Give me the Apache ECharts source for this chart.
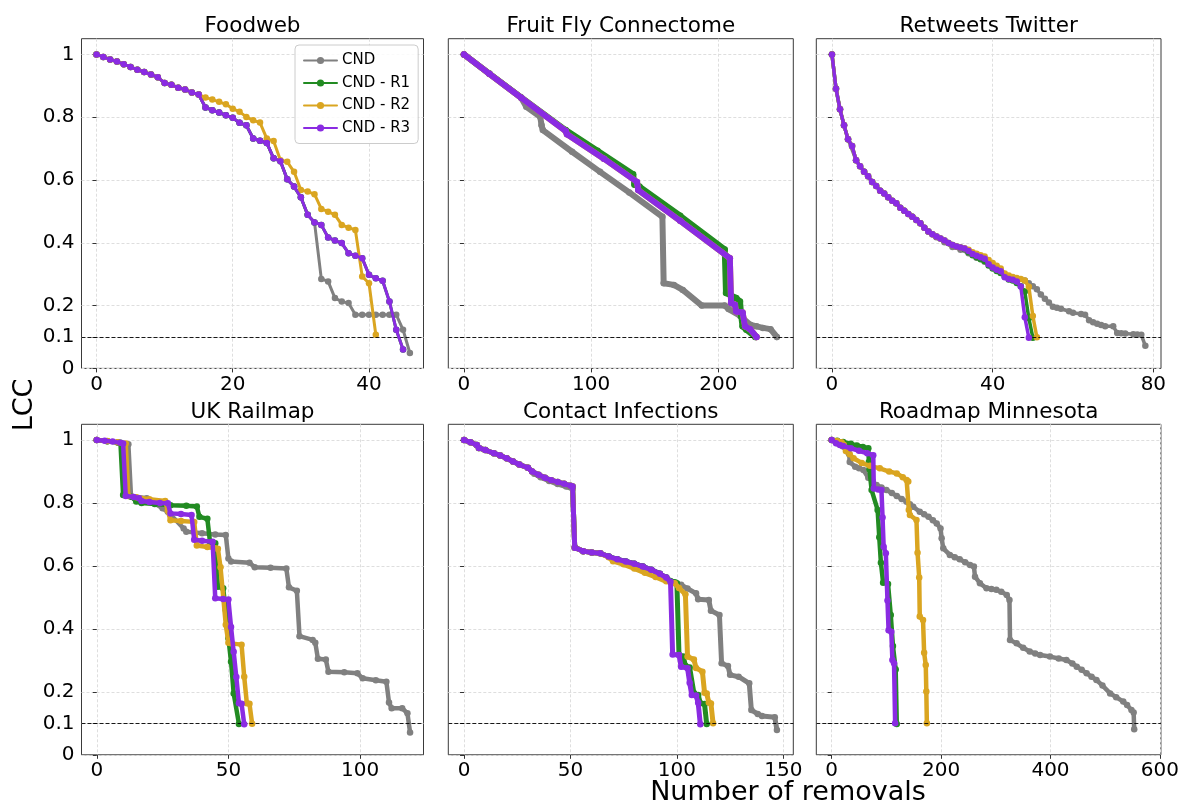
<!DOCTYPE html>
<html>
<head>
<meta charset="utf-8">
<script src="https://cdn.jsdelivr.net/npm/echarts@6/dist/echarts.min.js"></script>
<style>
  html, body { margin: 0; padding: 0; background: #fff; }
  #chart { width: 1182px; height: 807px; }
</style>
</head>
<body>
<div id="chart"></div>
<script>
// ---------- Series labels and tick values ----------
const seriesNames = ['CND', 'CND - R1', 'CND - R2', 'CND - R3'];
const panelTitles = ['Foodweb', 'Fruit Fly Connectome', 'Retweets Twitter',
                     'UK Railmap', 'Contact Infections', 'Roadmap Minnesota'];
const yTicks = [0, 0.1, 0.2, 0.4, 0.6, 0.8, 1];
const foodwebXTicks = [0, 20, 40];
const fruitflyXTicks = [0, 100, 200];
const retweetsXTicks = [0, 40, 80];
const railmapXTicks = [0, 50, 100];
const contactXTicks = [0, 50, 100, 150];
const roadmapXTicks = [0, 200, 400, 600];
const lccThreshold = 0.1;

// ---------- Foodweb: LCC after each removal (index = removals) ----------
const foodwebCND = [1.000,0.992,0.984,0.977,0.969,0.960,0.951,0.944,0.936,0.927,0.909,0.903,0.894,0.888,0.879,0.872,0.831,0.822,0.815,0.806,0.798,0.782,0.774,0.732,0.725,0.718,0.669,0.660,0.602,0.579,0.545,0.489,0.465,
  0.285,0.277,0.224,0.213,0.208,0.171,0.171,0.171,0.171,0.171,0.171,0.171,0.123,0.049];
const foodwebR1 = [1.000,0.992,0.984,0.977,0.969,0.960,0.951,0.944,0.936,0.927,0.909,0.903,0.894,0.888,0.879,0.872,0.831,0.822,0.815,0.806,0.798,0.782,0.774,0.732,0.725,0.718,0.669,0.660,0.602,0.579,0.545,0.489,0.465,0.457,0.417,0.407,0.399,0.367,0.359,0.351,0.298,0.287,0.279,0.213,0.123,0.060];
const foodwebR2 = [1.000,0.992,0.984,0.977,0.969,0.960,0.951,0.944,0.936,0.927,0.909,0.903,0.894,0.888,0.879,0.872,
  0.863,0.856,0.849,0.841,0.827,0.817,0.801,0.790,0.783,0.732,0.724,0.663,0.658,0.626,0.568,0.563,0.555,0.508,0.499,0.489,0.457,0.448,0.441,0.293,0.271,0.107];
const foodwebR3 = [1.000,0.992,0.984,0.977,0.969,0.960,0.951,0.944,0.936,0.927,0.909,0.903,0.894,0.888,0.879,0.872,0.831,0.822,0.815,0.806,0.798,0.782,0.774,0.732,0.725,0.718,0.669,0.660,0.602,0.579,0.545,0.489,0.465,0.457,0.417,0.407,0.399,0.367,0.359,0.351,0.298,0.287,0.279,0.213,0.123,0.060];

// ---------- Fruit Fly Connectome: [removals, LCC] ----------
const fruitflyCND = [[0,1.0],[20,0.938],[45,0.862],[49,0.833],[60,0.801],[61,0.774],[62,0.759],[85,0.690],[107,0.626],[130,0.560],[156,0.483],[157,0.271],[165,0.266],[172,0.250],[187,0.200],[205,0.200],[208,0.189],[217,0.168],[225,0.139],[230,0.134],[235,0.129],[241,0.125],[246,0.100]];
const fruitflyR1 = [[0,1.0],[20,0.939],[45,0.863],[80,0.759],[105,0.693],[133,0.618],[134,0.585],[138,0.579],[170,0.486],[205,0.379],[206,0.240],[214,0.224],[217,0.213],[218,0.166],[219,0.134],[222,0.123],[229,0.100]];
const fruitflyR2 = [[0,1.0],[20,0.938],[45,0.862],[80,0.756],[81,0.746],[110,0.668],[136,0.594],[137,0.568],[170,0.470],[209,0.351],[210,0.208],[213,0.203],[214,0.181],[219,0.178],[221,0.134],[225,0.125],[230,0.100]];
const fruitflyR3 = [[0,1.0],[20,0.938],[45,0.862],[80,0.756],[81,0.746],[110,0.668],[136,0.594],[137,0.568],[170,0.470],[209,0.351],[210,0.208],[213,0.203],[214,0.181],[219,0.178],[221,0.134],[225,0.125],[230,0.100]];

// ---------- Retweets Twitter ----------
const retweetsCND = [[0,1.000],[1,0.891],[2,0.825],[3,0.774],[4,0.730],[6,0.663],[8,0.626],[10,0.594],[12,0.566],[14,0.545],[16,0.526],[18,0.502],[20,0.483],[22,0.462],[24,0.436],
  [26,0.418],[28,0.402],[30,0.387],[32,0.378],[34,0.367],[36,0.352],[38,0.340],[40,0.322],[42,0.305],[44,0.290],[46,0.283],[48,0.280],[49,0.271],[50,0.262],[51,0.252],[52,0.235],[53,0.222],[54,0.210],[55,0.196],[56,0.193],[57,0.190],[59,0.182],[60,0.177],[62,0.173],[63,0.171],[64,0.153],[65,0.147],[66,0.142],[67,0.138],[68,0.134],[70,0.134],[71,0.113],[72,0.112],[73,0.111],[75,0.109],[76,0.108],[77,0.107],[78,0.072]];
const retweetsR1 = [1.000,0.891,0.825,0.774,0.730,0.708,0.663,0.644,0.626,0.612,0.594,0.581,0.566,0.557,0.545,0.534,0.526,0.512,0.502,0.492,0.483,0.473,0.462,0.448,0.436,0.427,0.420,0.414,0.407,0.399,0.393,0.388,0.385,
  0.380,0.370,0.360,0.354,0.348,0.342,0.328,0.318,0.310,0.304,0.292,0.283,0.280,0.272,0.262,0.245,0.160,0.098];
const retweetsR2 = [1.000,0.891,0.825,0.774,0.730,0.708,0.663,0.644,0.626,0.612,0.594,0.581,0.566,0.557,0.545,0.534,0.526,0.512,0.502,0.492,0.483,0.473,0.462,0.448,0.436,0.427,0.420,0.414,0.407,0.399,0.393,0.388,0.385,
  0.383,0.378,0.370,0.365,0.360,0.356,0.345,0.336,0.327,0.318,0.302,0.296,0.291,0.288,0.285,0.280,0.260,0.167,0.099];
const retweetsR3 = [1.000,0.891,0.825,0.774,0.730,0.708,0.663,0.644,0.626,0.612,0.594,0.581,0.566,0.557,0.545,0.534,0.526,0.512,0.502,0.492,0.483,0.473,0.462,0.448,0.436,0.427,0.420,0.414,0.407,0.399,0.393,0.388,0.385,
  0.382,0.374,0.364,0.359,0.354,0.349,0.332,0.321,0.314,0.309,0.290,0.285,0.282,0.277,0.261,0.163,0.098];

// ---------- UK Railmap ----------
const railmapCND = [[0,1.0],[4,0.996],[8,0.992],[12,0.987],[13,0.822],[19,0.815],[25,0.783],[27,0.772],[33,0.719],[34,0.709],[40,0.704],[45,0.700],[49,0.698],[50,0.624],[51,0.614],[58,0.610],[60,0.596],[66,0.594],[72,0.592],[73,0.532],[76,0.521],[77,0.377],[82,0.365],[83,0.356],[84,0.305],[87,0.303],[88,0.264],[94,0.262],[99,0.259],[101,0.243],[106,0.237],[110,0.232],[111,0.166],[112,0.148],[116,0.148],[118,0.132],[119,0.071]];
const railmapR1 = [[0,1.0],[4,0.996],[8,0.992],[9,0.991],[10,0.825],[13,0.820],[15,0.805],[17,0.800],[22,0.797],[28,0.793],[34,0.791],[38,0.789],[39,0.756],[42,0.750],[43,0.677],[45,0.672],[46,0.534],[48,0.529],[49,0.460],[50,0.370],[51,0.296],[52,0.195],[54,0.098]];
const railmapR2 = [[0,1.0],[4,0.997],[8,0.993],[11,0.989],[12,0.822],[15,0.818],[20,0.812],[26,0.806],[27,0.775],[28,0.745],[32,0.743],[37,0.740],[38,0.665],[42,0.660],[45,0.656],[46,0.655],[47,0.596],[49,0.413],[50,0.356],[51,0.354],[55,0.350],[56,0.248],[57,0.164],[58,0.162],[59,0.099]];
const railmapR3 = [[0,1.0],[3,0.998],[6,0.995],[9,0.991],[10,0.989],[11,0.822],[14,0.819],[16,0.815],[17,0.806],[20,0.803],[24,0.800],[27,0.799],[28,0.767],[32,0.765],[36,0.762],[37,0.683],[40,0.680],[44,0.677],[45,0.497],[48,0.495],[50,0.493],[51,0.406],[52,0.327],[53,0.247],[54,0.164],[55,0.162],[56,0.097]];

// ---------- Contact Infections ----------
const contactCND = [[0,1.0],[3,0.993],[6,0.984],[7,0.975],[10,0.968],[14,0.958],[17,0.951],[20,0.942],[23,0.932],[26,0.922],[30,0.912],[33,0.893],[36,0.882],[40,0.870],[44,0.860],[48,0.852],[51,0.845],[52,0.660],[56,0.647],[60,0.643],[64,0.640],[68,0.630],[72,0.621],[76,0.614],[80,0.607],[84,0.598],[88,0.588],[92,0.575],[95,0.563],[97,0.550],[99,0.546],[102,0.540],[105,0.528],[109,0.513],[110,0.494],[115,0.492],[116,0.458],[120,0.444],[121,0.291],[124,0.282],[125,0.254],[129,0.248],[134,0.227],[135,0.142],[138,0.130],[140,0.123],[146,0.119],[147,0.079]];
const contactR1 = [[0,1.0],[3,0.993],[6,0.984],[7,0.975],[10,0.968],[14,0.958],[17,0.951],[20,0.942],[23,0.932],[26,0.922],[30,0.912],[32,0.900],[35,0.890],[38,0.880],[41,0.872],[44,0.867],[47,0.861],[50,0.855],[51,0.852],[52,0.658],[56,0.647],[60,0.643],[64,0.640],[68,0.630],[72,0.621],[76,0.614],[80,0.607],[84,0.598],[88,0.588],[92,0.575],[95,0.563],[97,0.552],[99,0.548],[100,0.545],[101,0.317],[103,0.312],[104,0.283],[106,0.277],[108,0.196],[110,0.190],[111,0.164],[113,0.161],[114,0.098]];
const contactR2 = [[0,1.0],[3,0.993],[6,0.984],[7,0.975],[10,0.968],[14,0.958],[17,0.951],[20,0.942],[23,0.932],[26,0.922],[30,0.912],[32,0.900],[35,0.890],[38,0.880],[41,0.872],[44,0.867],[47,0.861],[50,0.855],[51,0.852],[52,0.658],[56,0.647],[60,0.643],[64,0.640],[68,0.628],[70,0.615],[75,0.605],[80,0.592],[85,0.578],[90,0.565],[95,0.551],[99,0.545],[101,0.530],[104,0.510],[105,0.312],[108,0.303],[109,0.276],[112,0.264],[113,0.197],[114,0.195],[115,0.166],[116,0.163],[117,0.100]];
const contactR3 = [[0,1.0],[3,0.993],[6,0.984],[7,0.975],[10,0.968],[14,0.958],[17,0.951],[20,0.942],[23,0.932],[26,0.922],[30,0.912],[32,0.900],[35,0.890],[38,0.880],[41,0.872],[44,0.867],[47,0.861],[50,0.855],[51,0.852],[52,0.658],[56,0.647],[60,0.643],[64,0.640],[68,0.630],[72,0.621],[76,0.614],[80,0.607],[84,0.598],[88,0.588],[92,0.575],[95,0.563],[97,0.550],[98,0.319],[101,0.317],[102,0.280],[105,0.275],[106,0.229],[107,0.190],[109,0.188],[110,0.165],[111,0.097]];

// ---------- Roadmap Minnesota ----------
const roadmapCND = [[0,1.0],[10,0.990],[20,0.980],[30,0.962],[32,0.955],[33,0.930],[43,0.915],[50,0.910],[58,0.905],[67,0.880],[75,0.868],[82,0.857],[91,0.849],[100,0.841],[110,0.832],[119,0.822],[128,0.813],[137,0.804],[143,0.796],[149,0.788],[161,0.772],[169,0.764],[177,0.756],[185,0.745],[192,0.735],[199,0.719],[201,0.688],[204,0.656],[216,0.635],[225,0.628],[234,0.621],[244,0.612],[253,0.603],[260,0.598],[262,0.566],[271,0.545],[283,0.529],[292,0.527],[301,0.524],[310,0.518],[320,0.508],[325,0.492],[326,0.365],[338,0.354],[350,0.340],[362,0.328],[372,0.322],[381,0.317],[399,0.312],[415,0.306],[429,0.301],[440,0.290],[448,0.280],[457,0.270],[466,0.259],[475,0.248],[484,0.238],[495,0.220],[509,0.195],[520,0.183],[533,0.169],[540,0.158],[548,0.142],[552,0.134],[553,0.081]];
const roadmapR1 = [[0,1.0],[10,0.998],[21,0.994],[35,0.988],[46,0.983],[57,0.978],[67,0.974],[68,0.930],[69,0.907],[73,0.841],[84,0.778],[87,0.691],[90,0.610],[94,0.547],[103,0.543],[108,0.444],[112,0.346],[117,0.271],[119,0.098]];
const roadmapR2 = [[0,1.0],[10,0.997],[18,0.993],[22,0.985],[26,0.965],[33,0.955],[40,0.942],[55,0.927],[70,0.918],[88,0.910],[105,0.900],[119,0.894],[130,0.882],[137,0.873],[140,0.868],[141,0.778],[143,0.762],[155,0.746],[157,0.642],[160,0.563],[161,0.439],[167,0.428],[169,0.324],[172,0.285],[173,0.201],[174,0.100]];
const roadmapR3 = [[0,1.0],[8,0.990],[15,0.984],[21,0.981],[35,0.974],[50,0.966],[65,0.958],[76,0.952],[77,0.846],[85,0.843],[91,0.841],[93,0.754],[95,0.661],[99,0.640],[102,0.490],[104,0.396],[109,0.391],[111,0.301],[114,0.291],[116,0.100]];

// ---------- Helpers ----------
const indexed = ys => ys.map((y, i) => [i, y]);

const FONT = '"DejaVu Sans", "Liberation Sans", sans-serif';
const colors = ['#808080', '#228B22', '#DAA520', '#8A2BE2'];

// panel layout (pixels) and x ranges
const colLeft = [81.5, 448.3, 816.3];
const colWidth = [342, 345, 344.7];
const rowTop = [38.7, 424.3];
const rowHeight = [329.7, 330.5];

const panels = [
  { xMin: -2.2,  xMax: 48.0,  ticks: foodwebXTicks,  lw: 3,   ms: 6.5,
    data: [indexed(foodwebCND), indexed(foodwebR1), indexed(foodwebR2), indexed(foodwebR3)] },
  { xMin: -12.3, xMax: 258.9, ticks: fruitflyXTicks, lw: 6,   ms: 6.5,
    data: [fruitflyCND, fruitflyR1, fruitflyR2, fruitflyR3] },
  { xMin: -3.9,  xMax: 81.9,  ticks: retweetsXTicks, lw: 3.5, ms: 6.5,
    data: [retweetsCND, indexed(retweetsR1), indexed(retweetsR2), indexed(retweetsR3)] },
  { xMin: -5.8,  xMax: 124.1, ticks: railmapXTicks,  lw: 4.5, ms: 6.5,
    data: [railmapCND, railmapR1, railmapR2, railmapR3] },
  { xMin: -7.4,  xMax: 154.7, ticks: contactXTicks,  lw: 5,   ms: 6.5,
    data: [contactCND, contactR1, contactR2, contactR3] },
  { xMin: -28.1, xMax: 601.8, ticks: roadmapXTicks,  lw: 4.5, ms: 6.5,
    data: [roadmapCND, roadmapR1, roadmapR2, roadmapR3] }
];

const grid = [], xAxis = [], yAxis = [], series = [], graphic = [];

panels.forEach((p, i) => {
  const col = i % 3, row = Math.floor(i / 3);
  grid.push({
    left: colLeft[col], top: rowTop[row], width: colWidth[col], height: rowHeight[row],
    show: true, borderColor: '#3a3a3a', borderWidth: 1, backgroundColor: 'transparent',
    containLabel: false
  });
  xAxis.push({
    type: 'value', gridIndex: i, min: p.xMin, max: p.xMax,
    axisLine: { show: false },
    axisTick: { show: true, inside: false, length: 4, customValues: p.ticks,
                lineStyle: { color: '#333', width: 1 } },
    axisLabel: { show: true, customValues: p.ticks, margin: 6, fontSize: 20,
                 color: '#000', fontFamily: FONT },
    splitLine: { show: true, lineStyle: { color: '#dedede', width: 1, type: [3, 2] } }
  });
  yAxis.push({
    type: 'value', gridIndex: i, min: 0, max: 1.05,
    axisLine: { show: false },
    axisTick: { show: true, inside: false, length: 4, customValues: yTicks,
                lineStyle: { color: '#333', width: 1 } },
    axisLabel: { show: col === 0, customValues: yTicks, margin: 7, fontSize: 20,
                 color: '#000', fontFamily: FONT },
    splitLine: { show: true, lineStyle: { color: '#dedede', width: 1, type: [3, 2] } }
  });
  p.data.forEach((d, k) => {
    const s = {
      name: seriesNames[k], type: 'line', xAxisIndex: i, yAxisIndex: i,
      data: d, symbol: 'circle', symbolSize: p.ms, showSymbol: true,
      lineStyle: { width: p.lw, color: colors[k], cap: 'round', join: 'round' },
      itemStyle: { color: colors[k] },
      emphasis: { disabled: true }, silent: true, z: 2 + k
    };
    if (k === 0) {
      s.markLine = {
        silent: true, symbol: ['none', 'none'], label: { show: false },
        lineStyle: { color: '#000', type: [4, 2], width: 0.9 },
        emphasis: { disabled: true },
        data: [{ yAxis: lccThreshold }]
      };
    }
    series.push(s);
  });
  graphic.push({
    type: 'text', x: colLeft[col] + colWidth[col] / 2, y: row === 0 ? 26.5 : 412,
    style: { text: panelTitles[i], font: '21.5px ' + FONT, fill: '#000',
             align: 'center', verticalAlign: 'middle' }
  });
});

graphic.push({
  type: 'text', x: 25, y: 405, rotation: Math.PI / 2,
  style: { text: 'LCC', font: '27px ' + FONT, fill: '#000', align: 'center', verticalAlign: 'middle' }
});
graphic.push({
  type: 'text', x: 788, y: 793,
  style: { text: 'Number of removals', font: '27px ' + FONT, fill: '#000', align: 'center', verticalAlign: 'middle' }
});

const chart = echarts.init(document.getElementById('chart'), null, { renderer: 'canvas' });
chart.setOption({
  animation: false,
  backgroundColor: '#fff',
  grid, xAxis, yAxis, series, graphic,
  legend: {
    data: seriesNames, orient: 'vertical', left: 295, top: 45,
    itemWidth: 33, itemHeight: 9, itemGap: 7.5,
    padding: [8, 8, 8, 8],
    borderColor: '#cccccc', borderWidth: 1, borderRadius: 4,
    backgroundColor: 'rgba(255,255,255,0.85)',
    textStyle: { fontSize: 15, fontFamily: FONT, color: '#000' },
    selectedMode: false
  }
});
</script>
</body>
</html>
